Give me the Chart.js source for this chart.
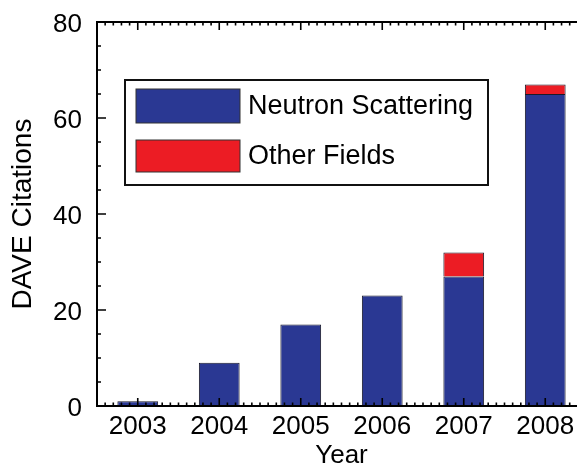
<!DOCTYPE html>
<html>
<head>
<meta charset="utf-8">
<script src="https://cdn.jsdelivr.net/npm/chart.js@4"></script>
<style>
  html, body { margin: 0; padding: 0; background: #fff; overflow: hidden; }
  #wrap { width: 592px; height: 466px; }
</style>
</head>
<body>
<div id="wrap"><canvas id="c" width="592" height="466"></canvas></div>
<script>
// ---- data ----
const years = ['2003', '2004', '2005', '2006', '2007', '2008'];
const neutronScattering = [1, 9, 17, 23, 27, 65];
const otherFields = [0, 0, 0, 0, 5, 2];
const seriesNames = ['Neutron Scattering', 'Other Fields'];
const yTickValues = [0, 20, 40, 60, 80];
const yMinorStep = 5;
const xMinorPerYear = 10;

const FONT = '"Liberation Sans", Arial, Helvetica, sans-serif';
const BLUE = '#2a3893';
const RED = '#ec1c24';

const framePlugin = {
  id: 'frame',
  afterDatasetsDraw(chart) {
    const ctx = chart.ctx;
    const a = chart.chartArea;
    const xs = chart.scales.x, ys = chart.scales.y;
    ctx.save();
    ctx.strokeStyle = '#000';
    ctx.lineWidth = 2;
    ctx.strokeRect(a.left, a.top, a.right - a.left, a.bottom - a.top);
    ctx.lineWidth = 1.6;
    ctx.beginPath();
    // y ticks (left and right)
    for (let v = ys.min; v <= ys.max + 1e-9; v += yMinorStep) {
      const py = ys.getPixelForValue(v);
      const len = yTickValues.includes(v) ? 9 : 4;
      ctx.moveTo(a.left, py); ctx.lineTo(a.left + len, py);
      ctx.moveTo(a.right, py); ctx.lineTo(a.right - len, py);
    }
    // x ticks (bottom and top)
    const p0 = xs.getPixelForValue(0);
    const step = (xs.getPixelForValue(1) - p0) / xMinorPerYear;
    const kMin = Math.ceil((a.left - p0) / step);
    const kMax = Math.floor((a.right - p0) / step);
    for (let k = kMin; k <= kMax; k++) {
      const px = p0 + k * step;
      const len = (k % xMinorPerYear === 0) ? 8 : 3.5;
      ctx.moveTo(px, a.bottom); ctx.lineTo(px, a.bottom - len);
      ctx.moveTo(px, a.top); ctx.lineTo(px, a.top + len);
    }
    ctx.stroke();

    // legend box
    const bx = a.left + 28, by = a.top + 58, bw = 363, bh = 105;
    ctx.lineWidth = 2;
    ctx.strokeStyle = '#111';
    ctx.fillStyle = '#fff';
    ctx.fillRect(bx, by, bw, bh);
    ctx.strokeRect(bx, by, bw, bh);
    chart.data.datasets.forEach((ds, i) => {
      const sy = by + 9 + i * 51;
      const sh = i === 0 ? 34 : 32;
      ctx.fillStyle = ds.backgroundColor;
      ctx.fillRect(bx + 11, sy, 104, sh);
      ctx.lineWidth = 1;
      ctx.strokeStyle = '#333';
      ctx.strokeRect(bx + 11, sy, 104, sh);
      ctx.fillStyle = '#000';
      ctx.font = '27px ' + FONT;
      ctx.textBaseline = 'middle';
      ctx.textAlign = 'left';
      ctx.fillText(ds.label, bx + 123, sy + sh / 2 + 1);
    });
    ctx.restore();
  }
};

new Chart(document.getElementById('c'), {
  type: 'bar',
  data: {
    labels: years,
    datasets: [
      { label: seriesNames[0], data: neutronScattering, backgroundColor: BLUE, borderColor: '#1a1a2a', borderWidth: 1 },
      { label: seriesNames[1], data: otherFields, backgroundColor: RED, borderColor: '#1a1a2a', borderWidth: 1 }
    ]
  },
  options: {
    responsive: false,
    animation: false,
    devicePixelRatio: 1,
    layout: { padding: { top: 22, right: 6, left: 0, bottom: 0 } },
    datasets: { bar: { categoryPercentage: 1, barPercentage: 0.5 } },
    plugins: { legend: { display: false }, tooltip: { enabled: false } },
    scales: {
      x: {
        stacked: true,
        offset: true,
        grid: { display: false, drawTicks: false },
        border: { display: false },
        ticks: { color: '#000', font: { family: FONT, size: 26 }, padding: 5, maxRotation: 0 },
        title: { display: true, text: 'Year', color: '#000', font: { family: FONT, size: 26, lineHeight: 0.8 }, padding: { top: 0, bottom: 0 } },
        afterFit(s) { s.height = 60; s.paddingLeft = 0; s.paddingRight = 0; }
      },
      y: {
        stacked: true,
        min: 0,
        max: 80,
        grid: { display: false, drawTicks: false },
        border: { display: false },
        afterBuildTicks(s) { s.ticks = yTickValues.map(v => ({ value: v })); },
        ticks: { color: '#000', font: { family: FONT, size: 26 }, padding: 15, labelOffset: 3 },
        title: { display: true, text: 'DAVE Citations', color: '#000', font: { family: FONT, size: 28, lineHeight: 1.2 }, padding: { top: 6, bottom: 0 } },
        afterFit(s) { s.width = 97; s.paddingTop = 0; s.paddingBottom = 0; }
      }
    }
  },
  plugins: [framePlugin]
});
</script>
</body>
</html>
